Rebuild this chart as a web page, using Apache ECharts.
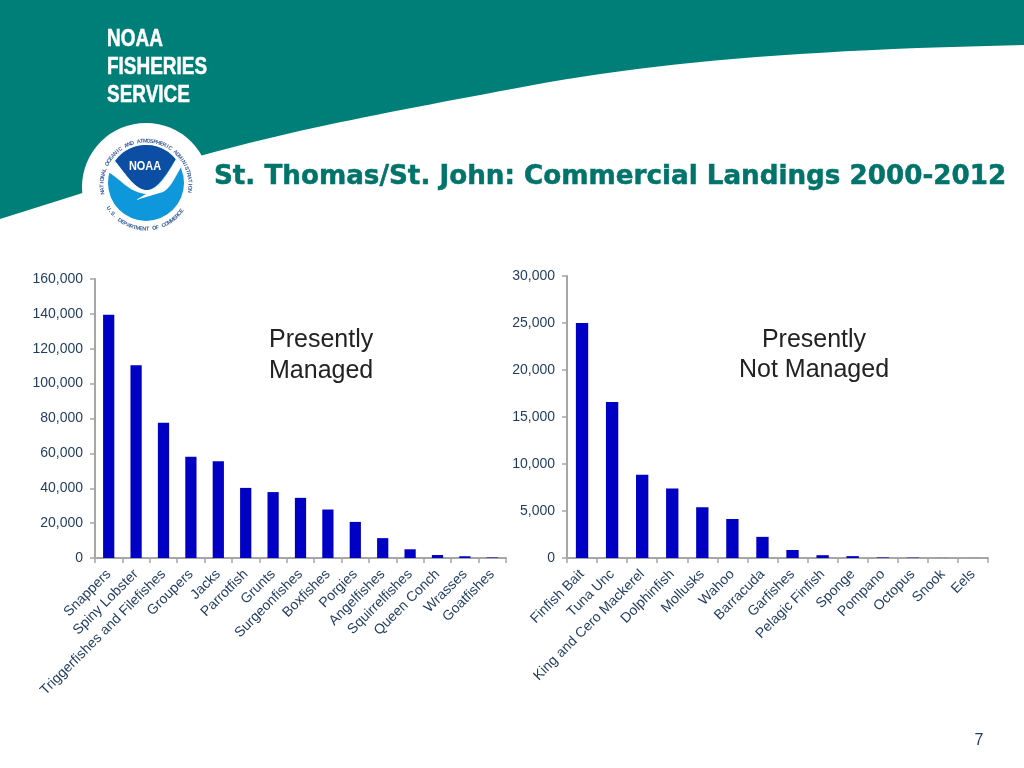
<!DOCTYPE html>
<html><head><meta charset="utf-8">
<style>html,body{margin:0;padding:0;background:#fff}#c{width:1024px;height:768px}</style>
<script src="https://cdn.jsdelivr.net/npm/echarts@6/dist/echarts.min.js"></script>
</head><body><div id="c"></div>
<script>
const managedCategories = ["Snappers","Spiny Lobster","Triggerfishes and Filefishes","Groupers","Jacks","Parrotfish","Grunts","Surgeonfishes","Boxfishes","Porgies","Angelfishes","Squirrelfishes","Queen Conch","Wrasses","Goatfishes"];
const managedValues = [139500,110500,77500,58000,55500,40200,37800,34500,27800,20700,11400,5000,1700,1000,300];
const otherCategories = ["Finfish Bait","Tuna Unc","King and Cero Mackerel","Dolphinfish","Mollusks","Wahoo","Barracuda","Garfishes","Pelagic Finfish","Sponge","Pompano","Octopus","Snook","Eels"];
const otherValues = [25000,16600,8850,7400,5400,4150,2250,850,300,200,60,40,10,5];
const titleText = "St. Thomas/St. John: Commercial Landings 2000-2012";

const TEAL = "#007f78", TXT = "#1f3a5f", AXIS = "#a6a6a6", FONT = '"Liberation Sans", Arial, sans-serif';
const fmt = v => v.toLocaleString("en-US");

// Flatten a list of line / cubic segments into polygon points for decorative shapes.
function outline(start, segs) {
  const pts = [start];
  let p = start;
  segs.forEach(s => {
    if (s.length === 2) { pts.push(s); p = s; return; }
    for (let i = 1; i <= 24; i++) {
      const t = i / 24, u = 1 - t;
      pts.push([
        u*u*u*p[0] + 3*u*u*t*s[0] + 3*u*t*t*s[2] + t*t*t*s[4],
        u*u*u*p[1] + 3*u*u*t*s[1] + 3*u*t*t*s[3] + t*t*t*s[5]
      ]);
    }
    p = [s[4], s[5]];
  });
  return pts;
}
function arcPts(cx, cy, r, a0, a1) {
  const pts = [];
  for (let i = 0; i <= 40; i++) {
    const a = (a0 + (a1 - a0) * i / 40) * Math.PI / 180;
    pts.push([cx + r * Math.cos(a), cy - r * Math.sin(a)]);
  }
  return pts;
}
function ringText(str, cx, cy, r, startDeg, stepDeg, inward) {
  return str.split("").map((ch, i) => {
    const a = (startDeg + i * stepDeg) * Math.PI / 180;
    return { type: "text", silent: true,
      x: cx + r * Math.cos(a), y: cy - r * Math.sin(a),
      rotation: inward ? a + Math.PI / 2 : a - Math.PI / 2,
      style: { text: ch, fill: "#3a5f9e", font: "bold 5.5px " + FONT, align: "center", verticalAlign: "middle" } };
  });
}
const poly = (points, fill) => ({ type: "polygon", silent: true, shape: { points }, style: { fill } });
const label = (text, x, y, align) => ({ type: "text", silent: true, x, y,
  style: { text, fill: "#222", font: "25px " + FONT, align, verticalAlign: "middle" } });

const decorations = [
  poly(outline([0,0], [[1024,0],[1024,45],[800,50,650,62,512,89],[400,110,300,128,200,156],[0,219]]), TEAL),
  { type: "circle", silent: true, shape: { cx: 146, cy: 187, r: 64 }, style: { fill: "#fff" } },
  { type: "circle", silent: true, shape: { cx: 146, cy: 183, r: 38 }, style: { fill: "#0e97db" } },
  poly(arcPts(146,183,38,143,38).concat(outline([176,159],[[166,174,157,190,146,190],[135,190,125,173,115,161]])), "#0c4ea3"),
  poly(outline([115,161],[[125,173,135,190,147,190],[158,190,168,173,176,159],[181,167],[174,180,170,188,163,192],[136,200],[146,194],[128,192,122,180,108,172]]), "#fff"),
  { type: "text", silent: true, x: 145, y: 166, scaleX: 0.84, style: { text: "NOAA", fill: "#fff", font: "bold 13px " + FONT, align: "center", verticalAlign: "middle" } },
  ...ringText("NATIONAL OCEANIC AND ATMOSPHERIC ADMINISTRATION", 146, 185, 44, 190, -4.3, false),
  ...ringText("U.S. DEPARTMENT OF COMMERCE", 146, 185, 44, 212, 4.3, true),
  ...[["NOAA", 39], ["FISHERIES", 67], ["SERVICE", 95]].map(([t, y]) => ({ type: "text", silent: true, x: 107, y,
      scaleX: 0.79, style: { text: t, fill: "#fff", stroke: "#fff", lineWidth: 0.5, font: "bold 24px " + FONT, align: "left", verticalAlign: "middle" } })),
  { type: "text", silent: true, x: 214, y: 177, scaleX: 1.007, style: { text: titleText, fill: "#00736a", stroke: "#00736a", lineWidth: 0.5, font: 'bold 26px "DejaVu Sans", Verdana, sans-serif', align: "left", verticalAlign: "middle" } },
  label("Presently", 269, 340, "left"),
  label("Managed", 269, 371, "left"),
  label("Presently", 814, 340, "center"),
  label("Not Managed", 814, 370, "center"),
  { type: "text", silent: true, x: 979, y: 741, style: { text: "7", fill: TXT, font: "16px " + FONT, align: "center", verticalAlign: "middle" } }
];

const xAxisOf = (cats, idx) => ({ type: "category", gridIndex: idx, data: cats,
  axisLine: { lineStyle: { color: AXIS, width: 2 } },
  axisTick: { show: true, length: 5, alignWithLabel: false, lineStyle: { color: AXIS, width: 1.5 } },
  axisLabel: { interval: 0, rotate: 45, margin: 14, fontSize: 14, fontFamily: FONT, color: TXT } });
const yAxisOf = (max, step, idx) => ({ type: "value", gridIndex: idx, min: 0, max, interval: step,
  axisLine: { show: true, lineStyle: { color: AXIS, width: 2 } },
  axisTick: { show: true, length: 5, lineStyle: { color: AXIS, width: 1.5 } },
  splitLine: { show: false },
  axisLabel: { margin: 12, fontSize: 14, fontFamily: FONT, color: TXT, formatter: fmt } });
const barOf = (vals, idx) => ({ type: "bar", xAxisIndex: idx, yAxisIndex: idx, data: vals, barWidth: "41%",
  itemStyle: { color: "#0000c4" }, silent: true, animation: false });

const chart = echarts.init(document.getElementById("c"), null, { renderer: "canvas" });
chart.setOption({
  animation: false,
  backgroundColor: "#fff",
  graphic: { elements: decorations },
  grid: [
    { left: 95, width: 411, top: 279, height: 279 },
    { left: 567, width: 421, top: 276, height: 282 }
  ],
  xAxis: [xAxisOf(managedCategories, 0), xAxisOf(otherCategories, 1)],
  yAxis: [yAxisOf(160000, 20000, 0), yAxisOf(30000, 5000, 1)],
  series: [barOf(managedValues, 0), barOf(otherValues, 1)]
});
</script></body></html>
